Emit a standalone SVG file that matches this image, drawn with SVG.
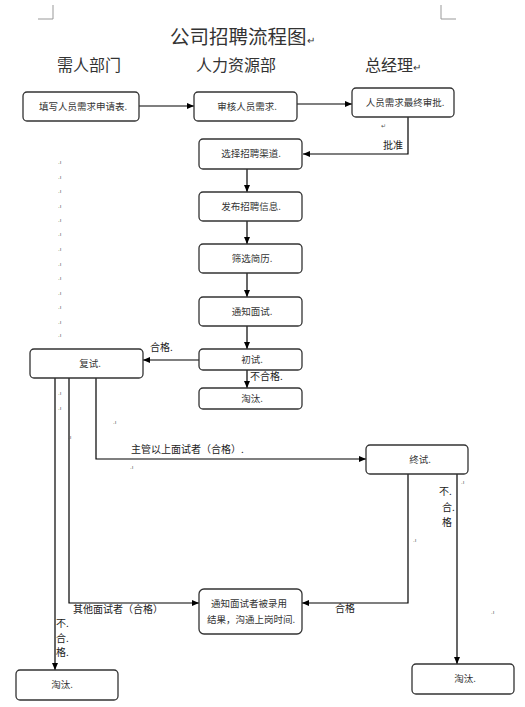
<svg xmlns="http://www.w3.org/2000/svg" width="525" height="707" viewBox="0 0 525 707">
<defs>
<marker id="ah" markerWidth="8" markerHeight="8" refX="7" refY="4" orient="auto" markerUnits="userSpaceOnUse">
<path d="M0,1 L7,4 L0,7 Z" fill="#000"/>
</marker>
<style>
.box{fill:#fff;stroke:#333;stroke-width:1.3}
.bt{font-family:"Noto Sans CJK SC","Noto Sans",sans-serif;font-size:9.5px;fill:#333;text-anchor:middle}
.lb{font-family:"Noto Sans CJK SC","Noto Sans",sans-serif;font-size:10px;fill:#222}
.hd{font-family:"Noto Sans CJK SC","Noto Sans",sans-serif;font-size:16px;fill:#333}
.dot{font-family:"Liberation Sans",sans-serif;font-size:6px;fill:#555}
.ln{fill:none;stroke:#000;stroke-width:1.2}
.cm{fill:none;stroke:#999;stroke-width:1}
</style>
</defs>
<rect width="525" height="707" fill="#fff"/>
<path class="cm" d="M53,5 V19 H38 M441,5 V19 H456"/>
<text x="170" y="44" style="font-family:'Noto Sans CJK SC',sans-serif;font-size:19.5px;fill:#333">公司招聘流程图<tspan font-size="10">↵</tspan></text>
<text class="hd" x="57" y="71">需人部门</text>
<text class="hd" x="196" y="71">人力资源部</text>
<text class="hd" x="365" y="71">总经理<tspan font-size="10">↵</tspan></text>

<g id="connectors">
<path class="ln" d="M139,106 H194" marker-end="url(#ah)"/>
<path class="ln" d="M297,104 H352" marker-end="url(#ah)"/>
<path class="ln" d="M408,117 V154 H303" marker-end="url(#ah)"/>
<path class="ln" d="M247,169 V192" marker-end="url(#ah)"/>
<path class="ln" d="M247,221 V244" marker-end="url(#ah)"/>
<path class="ln" d="M247,273 V297" marker-end="url(#ah)"/>
<path class="ln" d="M247,326 V349" marker-end="url(#ah)"/>
<path class="ln" d="M247,370 V388" marker-end="url(#ah)"/>
<path class="ln" d="M199,360 H143" marker-end="url(#ah)"/>
<path class="ln" d="M96,378 V459 H366" marker-end="url(#ah)"/>
<path class="ln" d="M69,378 V603 H199" marker-end="url(#ah)"/>
<path class="ln" d="M55,378 V670" marker-end="url(#ah)"/>
<path class="ln" d="M408,474 V603 H302" marker-end="url(#ah)"/>
<path class="ln" d="M457,474 V664" marker-end="url(#ah)"/>
<text class="lb" x="383" y="149">批准</text>
<text class="lb" x="150" y="351">合格.</text>
<text class="lb" x="250" y="380">不合格.</text>
<text class="lb" x="131" y="453">主管以上面试者（合格）.</text>
<text class="lb" x="73" y="613">其他面试者（合格）</text>
<text class="lb" x="335" y="612">合格</text>
<text class="lb" x="439" y="495">不.</text>
<text class="lb" x="442" y="511">合.</text>
<text class="lb" x="442" y="526">格</text>
<text class="lb" x="56" y="627">不.</text>
<text class="lb" x="56" y="642">合.</text>
<text class="lb" x="56" y="656">格.</text>
</g>

<g id="n1"><rect class="box" x="23" y="92" width="116" height="29" rx="4"/><text class="bt" x="83" y="110">填写人员需求申请表.</text></g>
<g id="n2"><rect class="box" x="194" y="92" width="103" height="29" rx="4"/><text class="bt" x="247" y="110">审核人员需求.</text></g>
<g id="n3"><rect class="box" x="352" y="88" width="102" height="29" rx="4"/><text class="bt" x="405" y="106">人员需求最终审批.</text></g>
<g id="n4"><rect class="box" x="199" y="139" width="103" height="30" rx="4"/><text class="bt" x="251" y="157">选择招聘渠道.</text></g>
<g id="n5"><rect class="box" x="199" y="192" width="103" height="29" rx="4"/><text class="bt" x="251" y="210">发布招聘信息.</text></g>
<g id="n6"><rect class="box" x="199" y="244" width="103" height="29" rx="4"/><text class="bt" x="252" y="262">筛选简历.</text></g>
<g id="n7"><rect class="box" x="199" y="297" width="103" height="29" rx="4"/><text class="bt" x="252" y="315">通知面试.</text></g>
<g id="n8"><rect class="box" x="199" y="349" width="103" height="21" rx="4"/><text class="bt" x="252" y="363">初试.</text></g>
<g id="n9"><rect class="box" x="199" y="388" width="103" height="21" rx="4"/><text class="bt" x="252" y="402">淘汰.</text></g>
<g id="n10"><rect class="box" x="30" y="349" width="113" height="29" rx="4"/><text class="bt" x="90" y="367">复试.</text></g>
<g id="n11"><rect class="box" x="366" y="445" width="102" height="29" rx="4"/><text class="bt" x="420" y="463">终试.</text></g>
<g id="n12"><rect class="box" x="199" y="589" width="103" height="45" rx="5"/><text class="bt" x="249" y="607">通知面试者被录用</text><text class="bt" x="251" y="623">结果，沟通上岗时间.</text></g>
<g id="n13"><rect class="box" x="16" y="670" width="102" height="30" rx="4"/><text class="bt" x="62" y="688">淘汰.</text></g>
<g id="n14"><rect class="box" x="412" y="664" width="102" height="30" rx="4"/><text class="bt" x="465" y="682">淘汰.</text></g>

<g id="marks">
<text class="dot" x="381" y="128" font-size="9">↵</text>
<text class="dot" x="58" y="164">.ı</text><text class="dot" x="58" y="179">.ı</text><text class="dot" x="58" y="193">.ı</text>
<text class="dot" x="58" y="208">.ı</text><text class="dot" x="58" y="222">.ı</text><text class="dot" x="58" y="236">.ı</text>
<text class="dot" x="58" y="251">.ı</text><text class="dot" x="58" y="266">.ı</text><text class="dot" x="58" y="280">.ı</text>
<text class="dot" x="58" y="295">.ı</text><text class="dot" x="58" y="309">.ı</text><text class="dot" x="58" y="324">.ı</text>
<text class="dot" x="58" y="337">.ı</text><text class="dot" x="58" y="395">.ı</text><text class="dot" x="58" y="410">.ı</text>
<text class="dot" x="113" y="424">.ı</text><text class="dot" x="68" y="439">.ı</text><text class="dot" x="130" y="469">.ı</text>
<text class="dot" x="461" y="484">.ı</text><text class="dot" x="413" y="542">.ı</text><text class="dot" x="491" y="614">.ı</text>
</g>
</svg>
